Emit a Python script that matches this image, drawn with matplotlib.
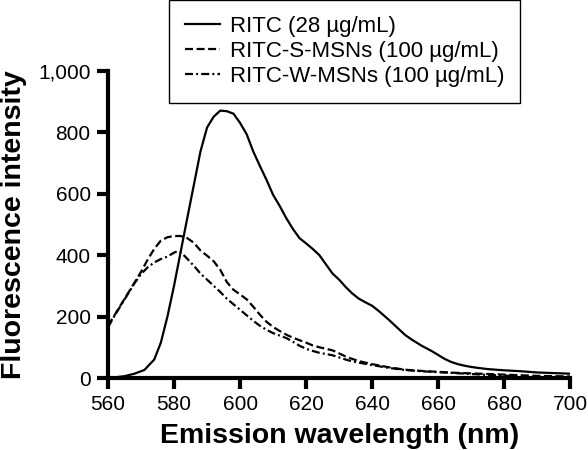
import matplotlib
matplotlib.use("Agg")
import matplotlib.pyplot as plt

plt.rcParams['font.family'] = ['Liberation Sans', 'DejaVu Sans']

# RITC (28 ug/mL)
ritc_x = [560, 562, 565, 568, 571, 574, 576, 578, 580, 582, 584, 586, 588, 590, 592,
          594, 596, 598, 600, 602, 604, 606, 608, 610, 612, 614, 616, 618, 620, 622,
          624, 626, 628, 630, 632, 634, 636, 638, 640, 642, 645, 648, 650, 652, 655,
          658, 660, 662, 664, 666, 668, 670, 672, 675, 680, 685, 690, 695, 700]
ritc_y = [0, 2, 6, 14, 26, 60, 115, 200, 300, 410, 520, 628, 737, 815, 850,
          870, 868, 860, 830, 793, 737, 690, 645, 596, 560, 520, 485, 455, 438, 420,
          400, 370, 340, 320, 296, 275, 258, 246, 235, 218, 190, 160, 140, 125, 105,
          88, 75, 62, 52, 45, 40, 36, 33, 29, 25, 22, 18, 16, 14]

# RITC-S-MSNs (100 ug/mL)
s_x = [560, 562, 564, 566, 568, 570, 572, 574, 576, 578, 580, 582, 584, 586, 588,
       590, 592, 594, 596, 598, 600, 602, 604, 606, 608, 610, 612, 614, 616, 618,
       620, 622, 624, 626, 628, 630, 632, 634, 636, 638, 640, 645, 650, 655, 660,
       665, 670, 675, 680, 685, 690, 695, 700]
s_y = [170, 205, 240, 275, 310, 345, 385, 420, 447, 458, 462, 462, 455, 440, 415,
       398, 380, 352, 312, 287, 272, 256, 232, 206, 183, 166, 153, 141, 131, 123,
       115, 106, 100, 95, 90, 80, 70, 62, 55, 50, 45, 35, 27, 23, 20, 17, 15, 13,
       11, 9, 7, 6, 5]

# RITC-W-MSNs (100 ug/mL)
w_x = [560, 562, 564, 566, 568, 570, 572, 574, 576, 578, 580, 581, 582, 584, 586,
       588, 590, 592, 594, 596, 598, 600, 602, 604, 606, 608, 610, 612, 614, 616,
       618, 620, 622, 624, 626, 628, 630, 632, 634, 636, 638, 640, 645, 650, 655,
       660, 665, 670, 675, 680, 685, 690, 695, 700]
w_y = [165, 203, 238, 273, 308, 338, 360, 376, 387, 395, 408, 412, 410, 388, 365,
       340, 320, 300, 280, 258, 240, 222, 204, 186, 170, 157, 146, 138, 130, 118,
       105, 95, 88, 82, 78, 74, 67, 60, 54, 50, 46, 42, 33, 26, 22, 19, 16, 13,
       10, 8, 5, 3, 1, 0]

labels = ['RITC (28 \u00b5g/mL)', 'RITC-S-MSNs (100 \u00b5g/mL)', 'RITC-W-MSNs (100 \u00b5g/mL)']

fig = plt.figure(figsize=(5.88, 4.5), dpi=100)
ax = fig.add_axes([0.1837, 0.16, 0.786, 0.683])

ax.plot(ritc_x, ritc_y, color='black', lw=1.6, label=labels[0])
ax.plot(s_x, s_y, color='black', lw=1.6, dashes=(3.6, 1.6), label=labels[1])
ax.plot(w_x, w_y, color='black', lw=1.6, dashes=(3.6, 1.4, 0.9, 1.4), label=labels[2])

ax.set_xlim(560, 700)
ax.set_ylim(0, 1000)
ax.set_xticks(range(560, 701, 20))
ax.set_yticks(range(0, 1001, 200))
ax.set_yticklabels(['0', '200', '400', '600', '800', '1,000'])

for s in ['top', 'right']:
    ax.spines[s].set_visible(False)
for s in ['left', 'bottom']:
    ax.spines[s].set_linewidth(3.0)
ax.tick_params(width=3.0, length=8, labelsize=15, direction='out', pad=4.5)

ax.set_xlabel('Emission wavelength (nm)', fontsize=20.5, fontweight='bold', labelpad=6)
ax.set_ylabel('Fluorescence intensity', fontsize=20.5, fontweight='bold', labelpad=8)

leg = fig.legend(loc='upper left', bbox_to_anchor=(0.2874, 1.0), fontsize=16,
                 frameon=True, fancybox=False, edgecolor='black', framealpha=1,
                 handlelength=1.58, handletextpad=0.45, labelspacing=0.19,
                 borderpad=0.7, borderaxespad=0)
leg.get_frame().set_linewidth(1.0)

plt.savefig('out.png', dpi=100)
